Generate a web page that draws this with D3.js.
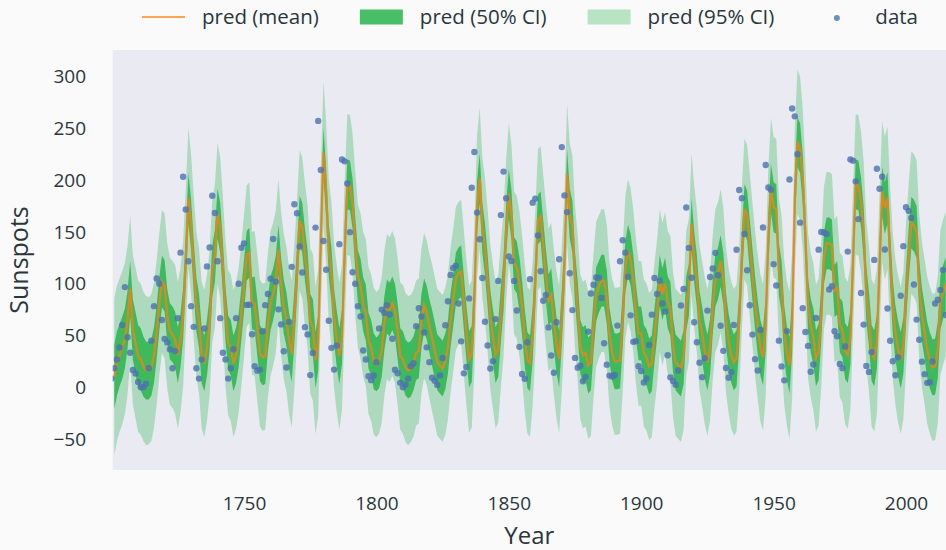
<!DOCTYPE html>
<html>
<head>
<meta charset="utf-8">
<script src="https://cdn.jsdelivr.net/npm/d3@7"></script>
<style>
    body { margin: 0; background: #fafafa; }
    svg { display: block; font-family: "Open Sans", sans-serif; }
</style>
</head>
<body>
<div id="chart"></div>
<script>

// yearly sunspot numbers, one value per year starting at startYear
const startYear = 1700;
const sunspots = [
    8.3,18.3,26.7,38.3,60.0,96.7,48.3,33.3,16.7,13.3,
    5.0,0.0,0.0,3.3,18.3,45.0,78.3,105.0,100.0,65.0,
    46.7,43.3,36.7,18.3,35.0,66.7,130.0,203.3,171.7,121.7,
    78.3,58.3,18.3,8.3,26.7,56.7,116.7,135.0,185.0,168.3,
    121.7,66.7,33.3,26.7,8.3,18.3,36.7,66.7,100.0,134.8,
    139.0,79.5,79.7,51.2,20.3,16.0,17.0,54.0,79.3,90.0,
    104.8,143.2,102.0,75.2,60.7,34.8,19.0,63.0,116.3,176.8,
    168.0,136.0,110.8,58.0,51.0,11.7,33.0,154.2,257.3,209.8,
    141.3,113.5,64.2,38.0,17.0,40.2,138.2,220.0,218.2,196.8,
    149.8,111.0,100.0,78.2,68.3,35.5,26.7,10.7,6.8,11.3,
    24.2,56.7,75.0,71.8,79.2,70.3,46.8,16.8,13.5,4.2,
    0.0,2.3,8.3,20.3,23.2,59.0,76.3,68.3,52.9,38.5,
    24.2,9.2,6.3,2.2,11.4,28.2,59.9,83.0,108.5,115.2,
    117.4,80.8,44.3,13.4,19.5,85.8,192.7,227.3,168.7,143.0,
    105.5,63.3,40.3,18.1,25.1,65.8,102.7,166.3,208.3,182.5,
    126.3,122.0,102.7,74.1,39.0,12.7,8.2,43.4,104.4,178.3,
    182.2,146.6,112.1,83.5,89.2,57.8,30.7,13.9,62.8,123.6,
    232.0,185.3,169.2,110.1,74.5,28.3,18.9,20.7,5.7,10.0,
    53.7,90.5,99.0,106.1,105.8,86.3,42.4,21.8,11.2,10.4,
    11.8,59.5,121.7,142.0,130.0,106.6,69.4,43.8,44.4,20.2,
    15.7,4.6,8.5,40.8,70.1,105.5,90.1,102.8,80.9,73.2,
    30.9,9.5,6.0,2.4,16.1,79.0,95.0,173.6,134.6,105.7,
    62.7,43.5,23.7,9.7,27.9,74.0,106.5,114.7,129.7,108.2,
    59.4,35.1,18.6,9.2,14.6,60.2,132.8,190.6,182.6,148.0,
    113.0,79.2,50.8,27.1,16.1,55.3,154.3,214.7,193.0,190.7,
    118.9,98.3,45.0,20.1,6.6,54.2,200.7,269.3,261.7,225.1,
    159.0,76.4,53.4,39.9,15.0,22.0,66.8,132.9,150.0,149.4,
    148.0,94.4,97.6,54.1,49.2,22.5,18.4,39.3,131.0,220.1,
    218.9,198.9,162.4,91.0,60.5,20.6,14.8,33.9,123.0,211.1,
    191.8,203.3,133.0,76.1,44.9,25.1,11.6,28.9,88.3,136.3,
    173.9,170.4,163.6,99.3,65.3,45.8,24.7,12.6,4.2,4.8,
    24.9,80.8,84.5,94.0,113.3,69.8
];

// model prediction, one value per year starting at predStartYear
const predStartYear = 1701;
const predMean = [
    10,23,31,38,47,65,95,56,43,30,
    27,20,16,16,19,31,53,80,102,98,
    69,54,51,46,31,45,71,123,183,157,
    116,80,64,31,23,38,62,112,127,168,
    154,116,71,43,38,23,31,46,71,98,
    127,130,81,81,58,33,29,30,60,81,
    90,102,133,100,78,66,45,32,68,111,
    161,154,128,107,64,58,26,43,142,227,
    188,132,109,69,47,30,49,129,196,195,
    177,139,107,98,80,72,45,38,25,22,
    25,36,62,78,75,81,74,54,30,27,
    19,16,18,23,33,35,64,79,72,59,
    48,36,24,21,18,25,39,65,84,105,
    110,112,82,52,27,32,86,174,202,154,
    133,103,68,49,31,37,70,100,152,187,
    166,120,116,100,77,48,26,23,52,102,
    162,165,136,108,84,89,63,41,27,67,
    117,206,168,155,106,77,39,31,33,21,
    24,60,90,97,103,103,87,51,34,25,
    25,26,65,116,132,123,103,73,52,52,
    33,29,20,23,50,73,103,90,100,82,
    76,41,24,21,18,29,81,94,158,126,
    103,67,52,35,24,39,77,103,110,122,
    105,65,45,31,24,28,65,125,172,166,
    137,109,81,58,38,29,61,143,192,174,
    172,114,97,53,33,21,60,181,237,231,
    201,146,79,60,49,28,34,71,125,139,
    139,137,93,96,60,56,35,31,48,123,
    196,195,179,149,91,66,33,28,44,117,
    189,173,183,125,78,53,37,26,40,88,
    128,159,156,150,97,70,54,36,26,19,
    20,36,82,92,100
];

// half widths of the two intervals around the mean
const ci50Half = [
    31,31,30,30,29,28,27,29,30,30,
    30,29,28,28,27,27,26,26,25,25,
    26,27,27,27,27,26,25,25,24,24,
    25,26,26,27,27,27,26,25,25,24,
    24,25,26,26,27,27,27,26,25,25,
    24,24,25,26,27,27,27,27,26,26,
    25,25,24,25,26,26,27,27,26,25,
    24,24,25,25,26,27,27,27,25,24,
    24,25,26,26,27,27,26,25,24,24,
    24,25,25,26,26,27,27,27,27,26,
    26,26,26,26,26,26,26,27,27,27,
    27,27,27,26,26,26,26,26,26,26,
    27,27,27,27,27,27,26,26,25,25,
    25,25,26,26,27,27,26,25,24,24,
    25,25,26,26,27,27,26,26,25,24,
    24,25,25,26,26,27,27,27,26,25,
    24,24,25,25,25,26,26,27,27,26,
    25,24,24,25,25,26,26,27,27,27,
    27,26,26,25,25,25,26,26,27,27,
    27,27,26,25,25,25,25,26,26,26,
    27,27,27,27,26,26,25,25,25,25,
    26,26,27,27,27,26,26,25,24,25,
    25,26,26,27,27,27,26,25,25,25,
    25,26,26,27,27,27,26,25,24,24,
    25,25,26,26,27,27,26,25,24,24,
    24,25,25,26,26,27,27,25,24,24,
    24,25,26,26,27,27,27,26,25,25,
    25,25,25,26,26,27,27,27,26,25,
    24,24,24,25,26,26,27,27,26,25,
    24,25,25,25,26,26,27,27,27,26,
    25,25,25,25,26,26,26,27,27,27,
    27,27,26,26,26
];

const ci95Half = [
    76,75,74,74,73,72,71,72,73,73,
    73,72,72,71,71,70,70,69,69,70,
    70,71,71,72,71,70,70,69,68,68,
    69,70,70,71,71,71,70,69,69,68,
    68,69,70,70,71,71,71,70,69,69,
    68,68,69,70,71,71,71,71,70,70,
    69,69,68,69,70,70,71,71,70,69,
    68,68,69,69,70,71,71,71,70,69,
    68,69,70,70,71,71,70,69,68,68,
    68,69,69,70,70,71,71,71,71,70,
    70,70,70,70,70,70,70,71,71,72,
    72,72,71,71,70,70,70,70,70,70,
    71,71,71,71,71,71,70,70,69,69,
    69,69,70,70,71,71,70,69,68,68,
    69,69,70,70,71,71,70,70,69,68,
    68,69,69,70,70,71,71,71,70,69,
    68,68,69,69,69,70,70,71,71,70,
    69,68,68,69,69,70,70,71,71,71,
    71,70,70,69,69,69,70,70,71,71,
    71,71,70,69,69,69,69,70,70,70,
    71,71,71,71,70,70,69,69,69,69,
    70,70,71,71,71,70,70,69,68,69,
    69,70,70,71,71,71,70,69,69,69,
    69,70,70,71,71,71,70,69,68,68,
    69,69,70,70,71,71,70,69,68,68,
    68,69,69,70,70,71,71,70,70,69,
    68,69,70,70,71,71,71,70,69,69,
    69,69,69,70,70,71,71,71,70,69,
    68,68,68,69,70,70,71,71,70,69,
    68,69,69,69,70,70,71,71,71,70,
    69,69,69,69,70,70,70,71,71,71,
    71,71,70,70,70
];

const yTicks = [-50, 0, 50, 100, 150, 200, 250, 300];
const xTicks = [1750, 1800, 1850, 1900, 1950, 2000];
const legendLabels = ["pred (mean)", "pred (50% CI)", "pred (95% CI)", "data"];

class SunspotChart {

    constructor () {
        this.points = sunspots.map((v, i) => ({year: startYear + i, value: v}));
        this.pred = predMean.map((m, i) => ({
            year: predStartYear + i,
            mean: m,
            h50: ci50Half[i],
            h95: ci95Half[i]
        }));
        this.drawChart();
    }

    drawChart () {

        let width = 946, height = 550;
        let plot = {left: 112.7, right: 946, top: 50, bottom: 470};
        let textColor = "#2b363c";
        let green = "#28b44b";

        let svg = d3.select("#chart")
            .append("svg")
            .attr("width", width)
            .attr("height", height);

        svg.append("rect")
            .attr("width", width)
            .attr("height", height)
            .attr("fill", "#fafafa");

        svg.append("rect")
            .attr("x", plot.left)
            .attr("y", plot.top)
            .attr("width", plot.right - plot.left)
            .attr("height", plot.bottom - plot.top)
            .attr("fill", "#eaeaf2");

        svg.append("clipPath")
            .attr("id", "plot-clip")
            .append("rect")
            .attr("x", plot.left)
            .attr("y", plot.top)
            .attr("width", plot.right - plot.left)
            .attr("height", plot.bottom - plot.top);

        let xScale = d3.scaleLinear()
            .domain([1700.4, 2015.1])
            .range([plot.left, plot.right]);

        let yScale = d3.scaleLinear()
            .domain([-80, 325.8])
            .range([plot.bottom, plot.top]);

        let g = svg.append("g").attr("clip-path", "url(#plot-clip)");

        let area95 = d3.area()
            .x(d => xScale(d.year))
            .y0(d => yScale(d.mean - d.h95))
            .y1(d => yScale(d.mean + d.h95));

        let area50 = d3.area()
            .x(d => xScale(d.year))
            .y0(d => yScale(d.mean - d.h50))
            .y1(d => yScale(d.mean + d.h50));

        let meanLine = d3.line()
            .x(d => xScale(d.year))
            .y(d => yScale(d.mean));

        g.append("path")
            .datum(this.pred)
            .attr("d", area95)
            .attr("fill", green)
            .attr("fill-opacity", 0.31);

        g.append("path")
            .datum(this.pred)
            .attr("d", area50)
            .attr("fill", green)
            .attr("fill-opacity", 0.85);

        g.append("path")
            .datum(this.pred)
            .attr("d", meanLine)
            .attr("fill", "none")
            .attr("stroke", "#ff7f0e")
            .attr("stroke-opacity", 0.75)
            .attr("stroke-width", 2.4);

        g.selectAll("circle")
            .data(this.points)
            .join("circle")
            .attr("cx", d => xScale(d.year))
            .attr("cy", d => yScale(d.value))
            .attr("r", 3.2)
            .attr("fill", "#4c72b0")
            .attr("fill-opacity", 0.8);

        // axes: labels only, no ticks or spines
        let yaxis = svg.append("g")
            .attr("transform", "translate(" + plot.left + ",0)")
            .call(d3.axisLeft(yScale).tickValues(yTicks).tickSize(0).tickPadding(26.7)
                .tickFormat(d3.format("d")));

        let xaxis = svg.append("g")
            .attr("transform", "translate(0," + plot.bottom + ")")
            .call(d3.axisBottom(xScale).tickValues(xTicks).tickSize(0).tickPadding(27)
                .tickFormat(d3.format("d")));

        [xaxis, yaxis].forEach(ax => {
            ax.select(".domain").remove();
            ax.selectAll("text")
                .attr("fill", textColor)
                .style("font-size", "19px")
                .style("font-family", "'Open Sans', sans-serif");
        });

        svg.append("text")
            .text("Year")
            .attr("x", (plot.left + plot.right) / 2)
            .attr("y", 544)
            .attr("text-anchor", "middle")
            .attr("fill", textColor)
            .style("font-size", "24px");

        svg.append("text")
            .text("Sunspots")
            .attr("transform", "translate(28," + ((plot.top + plot.bottom) / 2) + ")rotate(-90)")
            .attr("text-anchor", "middle")
            .attr("fill", textColor)
            .style("font-size", "25px");

        this.drawLegend(svg, textColor, green);
    }

    drawLegend (svg, textColor, green) {

        let handleLen = 43, textPad = 17, colGap = 41, cy = 17;
        let legend = svg.append("g");
        let x = 0;

        legendLabels.forEach((label, i) => {
            let item = legend.append("g").attr("transform", "translate(" + x + ",0)");

            if (i === 0) {
                item.append("line")
                    .attr("x1", 0).attr("x2", handleLen)
                    .attr("y1", cy).attr("y2", cy)
                    .attr("stroke", "#ff7f0e")
                    .attr("stroke-opacity", 0.7)
                    .attr("stroke-width", 2);
            } else if (i === 1 || i === 2) {
                item.append("rect")
                    .attr("x", 0).attr("y", cy - 7.5)
                    .attr("width", handleLen).attr("height", 15)
                    .attr("fill", green)
                    .attr("fill-opacity", i === 1 ? 0.85 : 0.31);
            } else {
                item.append("circle")
                    .attr("cx", handleLen / 2).attr("cy", cy + 1)
                    .attr("r", 3)
                    .attr("fill", "#4c72b0")
                    .attr("fill-opacity", 0.8);
            }

            let t = item.append("text")
                .text(label)
                .attr("x", handleLen + textPad)
                .attr("y", cy)
                .attr("dy", "0.35em")
                .attr("fill", textColor)
                .style("font-size", "20.5px");

            x += handleLen + textPad + t.node().getComputedTextLength() + colGap;
        });

        let total = x - colGap;
        legend.attr("transform", "translate(" + (530 - total / 2) + ",0)");
    }

}

new SunspotChart();

</script>
</body>
</html>
